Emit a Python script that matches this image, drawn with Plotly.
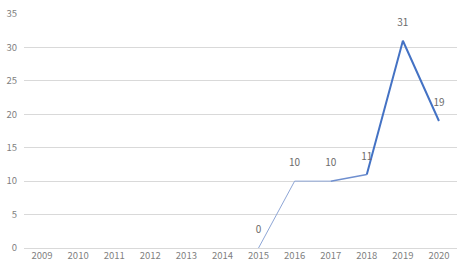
import plotly.graph_objects as go

years = ["2009", "2010", "2011", "2012", "2013", "2014", "2015", "2016", "2017", "2018", "2019", "2020"]
values = [None, None, None, None, None, None, 0, 10, 10, 11, 31, 19]
y_ticks = [0, 5, 10, 15, 20, 25, 30, 35]

fig = go.Figure()

# segments styled like the reference (thin light start, thicker later)
segments = [
    (6, 8, "#8ea6d6", 1),
    (8, 9, "#6f8fcf", 1.5),
    (9, 11, "#4472c4", 2),
]
for a, b, col, w in segments:
    fig.add_trace(go.Scatter(
        x=years[a:b + 1], y=values[a:b + 1], mode="lines",
        line=dict(color=col, width=w), hoverinfo="skip", showlegend=False))

lab_x = [x for x, v in zip(years, values) if v is not None]
lab_y = [v for v in values if v is not None]
fig.add_trace(go.Scatter(
    x=lab_x, y=lab_y, mode="markers+text", text=[str(v) for v in lab_y],
    textposition="top center",
    marker=dict(size=18, color="rgba(0,0,0,0)"),
    textfont=dict(size=10, color="#6b6b6b", family="Noto Sans CJK SC"),
    hoverinfo="skip", showlegend=False))

fig.update_layout(
    width=463, height=269,
    margin=dict(l=24, r=6, t=9, b=21),
    paper_bgcolor="white", plot_bgcolor="white",
    font=dict(family="Noto Sans CJK SC", size=10, color="#7f7f7f"),
    xaxis=dict(type="category", categoryorder="array", categoryarray=years,
               range=[-0.5, 11.5], showgrid=False, showline=False,
               ticks="", tickfont=dict(size=9.5, color="#7f7f7f"), fixedrange=True),
    yaxis=dict(range=[0, 35], tickvals=y_ticks, showgrid=True, gridcolor="#d9d9d9",
               gridwidth=1, zeroline=True, zerolinecolor="#d9d9d9", zerolinewidth=1,
               ticks="", ticklabelstandoff=6, tickfont=dict(size=9.5, color="#7f7f7f"),
               fixedrange=True),
)

fig.write_html("out.html", config={"displayModeBar": False},
               post_script="document.body.style.margin='0';")
